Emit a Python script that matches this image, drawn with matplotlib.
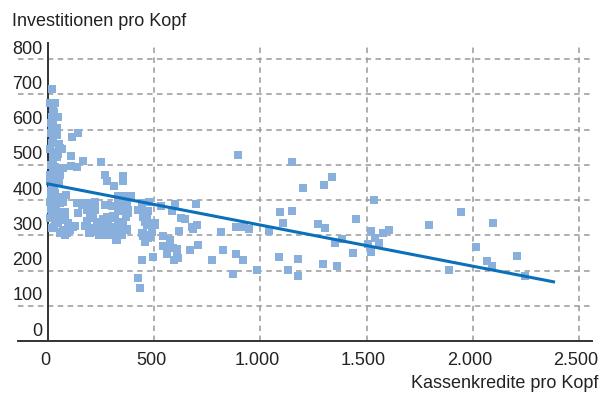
import numpy as np
import matplotlib
matplotlib.use('Agg')
import matplotlib.pyplot as plt
from matplotlib.transforms import ScaledTranslation

plt.rcParams['font.family'] = ['Liberation Sans', 'DejaVu Sans']

# Kassenkredite pro Kopf (x) / Investitionen pro Kopf (y)
kredite = [
    20, 33, 9, 25, 17, 49, 25, 20, 44, 41, 25, 17, 64, 25, 41, 25, 33, 64, 25, 41,
    25, 17, 33, 49, 10, 12, 8, 30, 15, 10, 30, 56, 72, 38, 41, 64, 75, 49, 41, 33,
    80, 49, 20, 15, 10, 56, 72, 80, 96, 119, 104, 64, 88, 127, 96, 85, 80, 143, 20, 30,
    12, 35, 50, 55, 45, 50, 10, 15, 30, 12,
    112, 143, 56, 108, 166, 250, 108, 138, 69, 268, 276, 311, 352, 355, 330, 363, 391,
    135, 159, 190, 221, 151, 166, 198, 221, 185, 143, 198, 221, 268, 300, 331, 339, 363,
    378, 339, 378, 347, 284, 315, 370, 331, 347, 370, 245, 260, 253, 276, 284, 292, 315,
    331, 339, 355, 367, 378, 370, 315, 323, 174, 194, 206, 229, 213, 198, 221, 320, 371,
    250, 290, 270, 300, 350, 230, 185, 240, 260, 305, 275,
    425, 441, 465, 465, 457, 472, 449, 457, 480, 488, 504, 433, 441, 465, 441, 457, 457,
    441, 425, 433, 441, 472, 449, 467, 477, 468, 505, 446, 480, 455, 472, 496,
    531, 599, 585, 698, 628, 646, 618, 679, 703, 684, 816, 887, 924, 945, 1040, 1094,
    1150, 1108, 543, 576, 543, 566, 590, 609, 562, 609, 614, 595, 670, 708, 774, 825,
    887, 920, 872, 985, 1089, 1131, 1176, 1176, 896, 1150,
    1536, 1944, 2095, 1795, 1273, 1304, 1451, 1521, 1576, 1607, 1541, 1557, 1505, 1521,
    1353, 1383, 1437, 1296, 1359, 1889, 2014, 2065, 2089, 2210, 2247, 1339, 1301, 1202,
]
investitionen = [
    716, 677, 675, 656, 637, 635, 623, 607, 604, 585, 576, 561, 546, 536, 523, 514, 495, 490, 476, 462,
    448, 434, 420, 410, 470, 500, 455, 440, 425, 395, 388, 391, 396, 382, 367, 363, 366, 353, 345, 339,
    344, 334, 360, 375, 350, 306, 315, 301, 330, 325, 315, 310, 306, 327, 334, 415, 365, 363, 320, 325,
    410, 405, 450, 470, 530, 560, 545, 590, 650, 620,
    579, 590, 547, 524, 510, 507, 498, 493, 490, 472, 453, 441, 469, 453, 412, 412, 412,
    391, 386, 393, 393, 391, 386, 391, 396, 372, 363, 363, 372, 386, 382, 391, 372, 386,
    372, 405, 410, 412, 386, 382, 396, 377, 368, 363, 339, 330, 320, 353, 334, 317, 348,
    334, 320, 339, 353, 363, 318, 306, 287, 327, 308, 320, 334, 348, 306, 310, 287, 315,
    310, 300, 340, 325, 300, 320, 340, 300, 345, 355, 300,
    372, 377, 367, 353, 339, 330, 306, 287, 296, 310, 334, 372, 391, 363, 306, 301, 282,
    230, 178, 151, 374, 369, 353, 355, 396, 328, 330, 298, 298, 287, 291, 239,
    384, 388, 370, 388, 350, 347, 313, 323, 328, 318, 310, 325, 325, 319, 312, 365,
    370, 334, 299, 287, 270, 268, 265, 262, 247, 249, 237, 231, 259, 273, 230, 257,
    247, 230, 190, 202, 239, 202, 233, 185, 529, 507,
    399, 367, 336, 330, 333, 322, 345, 312, 308, 315, 292, 279, 276, 254,
    277, 289, 251, 220, 214, 202, 268, 227, 213, 242, 185, 467, 444, 435,
]

trend_x = [0, 2380]
trend_y = [446, 168]

x_ticks = [0, 500, 1000, 1500, 2000, 2500]
x_labels = ['0', '500', '1.000', '1.500', '2.000', '2.500']
y_ticks = [0, 100, 200, 300, 400, 500, 600, 700, 800]
y_labels = ['0', '100', '200', '300', '400', '500', '600', '700', '800']

fig = plt.figure(figsize=(6.03, 3.93), dpi=100)
ax = fig.add_axes([18 / 603, 52 / 393, 574 / 603, 298 / 393])

ax.scatter(kredite, investitionen, marker='s', s=26, color='#89afdd',
           linewidths=0, zorder=3)
ax.plot(trend_x, trend_y, color='#0b70ba', linewidth=2.2, zorder=4)

ax.set_xlim(-141, 2561)
ax.set_ylim(0, 846)

ax.set_xticks(x_ticks)
ax.set_xticklabels(x_labels)
ax.set_yticks(y_ticks)
ax.set_yticklabels(y_labels)

ax.grid(True, color='#999999', linewidth=1.1, linestyle=(0, (3.6, 2.9)), zorder=0)
# kein Gitter auf den Achsen selbst
ax.get_xgridlines()[0].set_visible(False)
ax.get_ygridlines()[0].set_visible(False)

for side in ['top', 'right']:
    ax.spines[side].set_visible(False)
ax.spines['left'].set_position(('data', 0))
ax.spines['left'].set_color('#333333')
ax.spines['left'].set_linewidth(1.4)
ax.spines['bottom'].set_color('#333333')
ax.spines['bottom'].set_linewidth(1.4)

ax.tick_params(axis='both', length=0, labelsize=13, colors='#222222')
ax.tick_params(axis='y', pad=4)
ax.tick_params(axis='x', pad=8)

for lab in ax.get_yticklabels():
    lab.set_transform(lab.get_transform() + ScaledTranslation(0, 12 / 100, fig.dpi_scale_trans))
for lab in ax.get_xticklabels():
    lab.set_transform(lab.get_transform() + ScaledTranslation(-3 / 100, 0, fig.dpi_scale_trans))

fig.text(12 / 603, 1 - 21 / 393, 'Investitionen pro Kopf', fontsize=13,
         color='#222222', va='center', ha='left')
fig.text(598 / 603, 10 / 393, 'Kassenkredite pro Kopf', fontsize=13,
         color='#222222', va='center', ha='right')

fig.savefig('out.png', dpi=100)
